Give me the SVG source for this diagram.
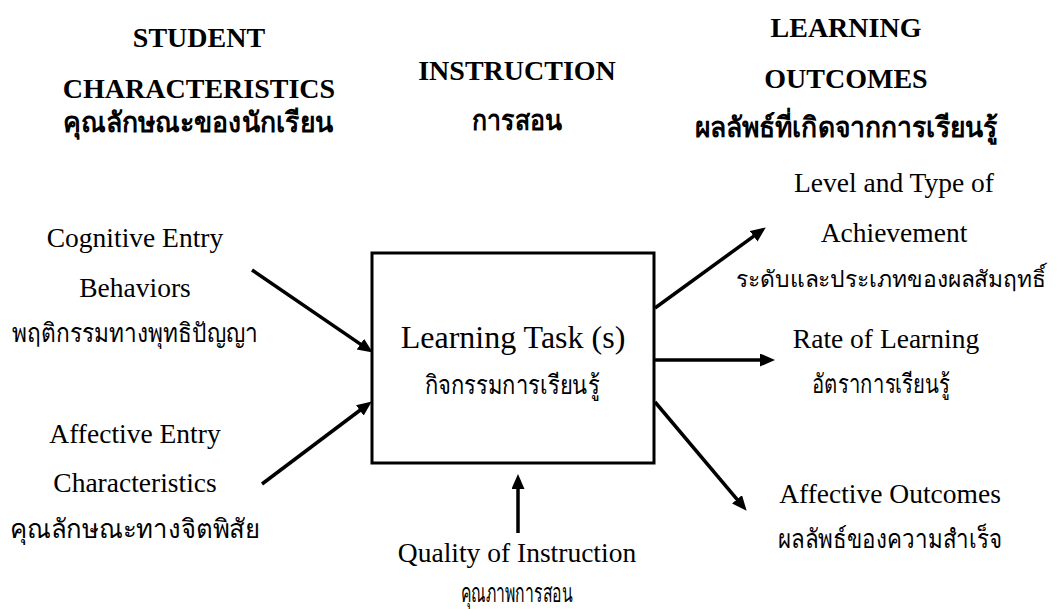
<svg xmlns="http://www.w3.org/2000/svg" width="1057" height="609" viewBox="0 0 1057 609">
<defs>
<style>
text{font-family:"Liberation Serif","Times New Roman",serif;fill:#000;text-anchor:middle}
.h{font-weight:bold;font-size:28px}
.ht{font-weight:bold;font-size:28px}
.t{font-size:27.5px}
.th{font-size:26px}
.big{font-size:32px}
.conn line{stroke:#000;stroke-width:3.5;marker-end:url(#ah)}
</style>
<marker id="ah" markerUnits="userSpaceOnUse" markerWidth="16" markerHeight="14" refX="4" refY="6.5" orient="auto">
<path d="M0,0 L15,6.5 L0,13 z" fill="#000"/>
</marker>
</defs>
<rect width="1057" height="609" fill="#fff"/>
<g id="hdr-student">
<text class="h" x="199" y="47">STUDENT</text>
<text class="h" x="199" y="98">CHARACTERISTICS</text>
<text class="ht" x="198" y="132" textLength="270" lengthAdjust="spacingAndGlyphs">คุณลักษณะของนักเรียน</text>
</g>
<g id="hdr-instruction">
<text class="h" x="517" y="80">INSTRUCTION</text>
<text class="ht" x="517" y="130" textLength="90" lengthAdjust="spacingAndGlyphs">การสอน</text>
</g>
<g id="hdr-outcomes">
<text class="h" x="846" y="37">LEARNING</text>
<text class="h" x="846" y="88">OUTCOMES</text>
<text class="ht" x="846" y="137" textLength="303" lengthAdjust="spacingAndGlyphs">ผลลัพธ์ที่เกิดจากการเรียนรู้</text>
</g>
<g id="node-cognitive">
<text class="t" x="135" y="247">Cognitive Entry</text>
<text class="t" x="135" y="297">Behaviors</text>
<text class="th" x="135" y="342" textLength="246" lengthAdjust="spacingAndGlyphs">พฤติกรรมทางพุทธิปัญญา</text>
</g>
<g id="node-affective">
<text class="t" x="135" y="443">Affective Entry</text>
<text class="t" x="135" y="492">Characteristics</text>
<text class="th" x="135" y="538" textLength="250" lengthAdjust="spacingAndGlyphs">คุณลักษณะทางจิตพิสัย</text>
</g>
<g id="node-task">
<rect x="372" y="253" width="282" height="210" fill="none" stroke="#000" stroke-width="3"/>
<text class="big" x="513" y="348">Learning Task (s)</text>
<text class="th" x="512" y="394" textLength="175" lengthAdjust="spacingAndGlyphs">กิจกรรมการเรียนรู้</text>
</g>
<g id="node-quality">
<text class="t" x="517" y="562">Quality of Instruction</text>
<text class="th" x="517" y="602" textLength="112" lengthAdjust="spacingAndGlyphs">คุณภาพการสอน</text>
</g>
<g id="node-achievement">
<text class="t" x="894" y="192">Level and Type of</text>
<text class="t" x="894" y="242">Achievement</text>
<text class="th" x="891" y="287" font-size="23" style="font-size:23px" textLength="310" lengthAdjust="spacingAndGlyphs">ระดับและประเภทของผลสัมฤทธิ์</text>
</g>
<g id="node-rate">
<text class="t" x="886" y="348">Rate of Learning</text>
<text class="th" x="881" y="393" textLength="138" lengthAdjust="spacingAndGlyphs">อัตราการเรียนรู้</text>
</g>
<g id="node-affout">
<text class="t" x="890" y="503">Affective Outcomes</text>
<text class="th" x="890" y="548" textLength="224" lengthAdjust="spacingAndGlyphs">ผลลัพธ์ของความสำเร็จ</text>
</g>
<g id="connectors" class="conn">
<line x1="252" y1="270" x2="363.7" y2="346.4"/>
<line x1="262" y1="484" x2="363" y2="408"/>
<line x1="655" y1="308" x2="756.9" y2="233.9"/>
<line x1="655" y1="360" x2="764" y2="360"/>
<line x1="655" y1="402" x2="739.6" y2="502.4"/>
<line x1="518" y1="533" x2="518" y2="485"/>
</g>
</svg>
